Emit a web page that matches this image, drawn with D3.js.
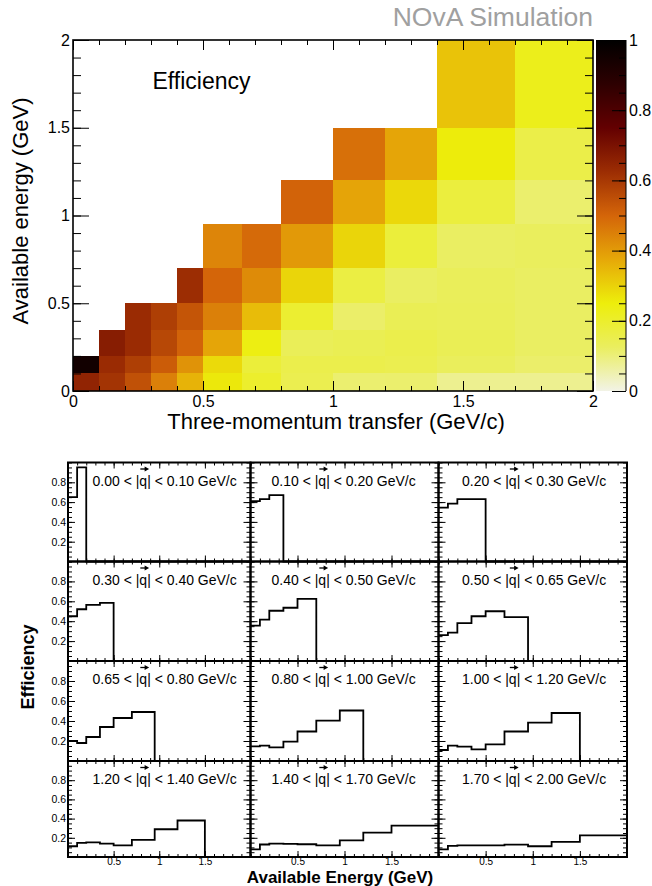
<!DOCTYPE html>
<html>
<head>
<meta charset="utf-8">
<script src="https://cdn.jsdelivr.net/npm/d3@7"></script>
<style>
  body { margin: 0; background: #fff; }
  svg { display: block; font-family: "Liberation Sans", Arial, sans-serif; }
</style>
</head>
<body>
<svg id="chart" width="652" height="886"></svg>
<script>
// bin edges (GeV/c for |q|, GeV for available energy)
const qEdges = [0, 0.1, 0.2, 0.3, 0.4, 0.5, 0.65, 0.8, 1.0, 1.2, 1.4, 1.7, 2.0];
const eavEdges = [0, 0.1, 0.2, 0.35, 0.5, 0.7, 0.95, 1.2, 1.5, 2.0];

// efficiency in each |q| slice, one value per available-energy bin
const efficiency = [
  [0.65, 0.95],
  [0.61, 0.63, 0.67],
  [0.545, 0.585, 0.63, 0.63],
  [0.45, 0.52, 0.565, 0.585],
  [0.355, 0.415, 0.505, 0.535, 0.625],
  [0.26, 0.285, 0.38, 0.45, 0.50, 0.44],
  [0.20, 0.18, 0.24, 0.34, 0.43, 0.49],
  [0.147, 0.153, 0.136, 0.194, 0.295, 0.403, 0.505],
  [0.11, 0.153, 0.143, 0.116, 0.167, 0.295, 0.383, 0.48],
  [0.112, 0.147, 0.153, 0.14, 0.122, 0.178, 0.289, 0.38],
  [0.08, 0.13, 0.14, 0.136, 0.133, 0.122, 0.174, 0.254, 0.327],
  [0.08, 0.115, 0.122, 0.122, 0.122, 0.128, 0.112, 0.157, 0.226],
];

// tick values
const mapTicks = [0, 0.5, 1, 1.5, 2];
const zTicks = [0, 0.2, 0.4, 0.6, 0.8, 1];
const panelYTicks = [0.2, 0.4, 0.6, 0.8];
const panelXTicks = [0.5, 1, 1.5];

// inverted dark body radiator palette
const paletteColors = ['#f2f3e6', '#eaee5f', '#edee0b', '#e6a808', '#d46509', '#9c2d03', '#630001', '#2d0001', '#000000'];

const svg = d3.select('#chart');
const color = d3.scaleLinear()
  .domain(paletteColors.map((c, i) => i / (paletteColors.length - 1)))
  .range(paletteColors)
  .interpolate(d3.interpolateRgb);

const range = (a, b, s) => d3.range(Math.round((b - a) / s) + 1).map((i) => +(a + i * s).toFixed(4));

function ticks(g, axisFn, scale, values, size, fmt, pad, font) {
  g.call(axisFn(scale).tickValues(values).tickSize(size).tickPadding(pad || 3)
    .tickFormat(fmt || (() => '')));
  g.select('.domain').remove();
  g.attr('font-family', null).attr('font-size', font || 10);
  g.selectAll('line').attr('stroke', '#000');
  g.selectAll('text').attr('fill', '#000');
  return g;
}

// ---------- 2D efficiency map ----------
const mx = d3.scaleLinear().domain([0, 2]).range([73, 593]);
const my = d3.scaleLinear().domain([0, 2]).range([391, 40]);

const cells = [];
efficiency.forEach((col, j) => col.forEach((v, i) => cells.push({ j, i, v })));

svg.append('g')
  .selectAll('rect')
  .data(cells)
  .join('rect')
  .attr('x', (d) => mx(qEdges[d.j]))
  .attr('width', (d) => mx(qEdges[d.j + 1]) - mx(qEdges[d.j]))
  .attr('y', (d) => my(eavEdges[d.i + 1]))
  .attr('height', (d) => my(eavEdges[d.i]) - my(eavEdges[d.i + 1]))
  .attr('fill', (d) => color(d.v))
  .attr('shape-rendering', 'crispEdges');

const fmt = d3.format('~g');
ticks(svg.append('g').attr('transform', 'translate(0,391)'), d3.axisBottom, mx, range(0, 2, 0.1), -5);
ticks(svg.append('g').attr('transform', 'translate(0,391)'), d3.axisBottom, mx, mapTicks, -10, fmt, 5, 16);
ticks(svg.append('g').attr('transform', 'translate(0,40)'), d3.axisTop, mx, range(0, 2, 0.1), -5);
ticks(svg.append('g').attr('transform', 'translate(0,40)'), d3.axisTop, mx, mapTicks, -10);
ticks(svg.append('g').attr('transform', 'translate(73,0)'), d3.axisLeft, my, range(0, 2, 0.1), -8);
ticks(svg.append('g').attr('transform', 'translate(73,0)'), d3.axisLeft, my, mapTicks, -16, fmt, 3, 16);
ticks(svg.append('g').attr('transform', 'translate(593,0)'), d3.axisRight, my, range(0, 2, 0.1), -8);
ticks(svg.append('g').attr('transform', 'translate(593,0)'), d3.axisRight, my, mapTicks, -16);

svg.append('rect')
  .attr('x', 73).attr('y', 40).attr('width', 520).attr('height', 351)
  .attr('fill', 'none').attr('stroke', '#000').attr('stroke-width', 1.6);

// colour bar
const zy = d3.scaleLinear().domain([0, 1]).range([391, 40]);
const grad = svg.append('defs').append('linearGradient')
  .attr('id', 'zgrad').attr('x1', 0).attr('y1', 1).attr('x2', 0).attr('y2', 0);
grad.selectAll('stop')
  .data(paletteColors)
  .join('stop')
  .attr('offset', (d, i) => i / (paletteColors.length - 1))
  .attr('stop-color', (d) => d);
svg.append('rect')
  .attr('x', 596).attr('y', zy(1)).attr('width', 30).attr('height', zy(0) - zy(1))
  .attr('fill', 'url(#zgrad)');
ticks(svg.append('g').attr('transform', 'translate(626,0)'), d3.axisRight, zy, range(0, 1, 0.05), -7);
ticks(svg.append('g').attr('transform', 'translate(626,0)'), d3.axisRight, zy, zTicks, -14, fmt, 3, 16);
svg.append('line').attr('x1', 626).attr('x2', 626).attr('y1', 40).attr('y2', 391).attr('stroke', '#000');

// texts
svg.append('text').attr('x', 593).attr('y', 26).attr('text-anchor', 'end')
  .attr('font-size', 26.5).attr('fill', '#a0a0a0').text('NOvA Simulation');
svg.append('text').attr('x', 152.5).attr('y', 89).attr('font-size', 23).text('Efficiency');
svg.append('text').attr('transform', 'translate(28,211) rotate(-90)').attr('text-anchor', 'middle')
  .attr('font-size', 22).text('Available energy (GeV)');
svg.append('text').attr('x', 336).attr('y', 429).attr('text-anchor', 'middle')
  .attr('font-size', 22).text('Three-momentum transfer (GeV/c)');

// ---------- slices ----------
const colX = [68, 250.5, 438.5, 627];
const rowY = [462.5, 561.5, 661, 761, 857];
const labelX = [92.5, 271.5, 462];
const sliceLine = d3.line().curve(d3.curveStepAfter);

efficiency.forEach((vals, k) => {
  const r = Math.floor(k / 3);
  const c = k % 3;
  const px = d3.scaleLinear().domain([0, 2]).range([colX[c], colX[c + 1]]);
  const py = d3.scaleLinear().domain([0, 1]).range([rowY[r + 1], rowY[r]]);
  const g = svg.append('g');

  const pts = vals.map((v, i) => [eavEdges[i], v]);
  const last = eavEdges[vals.length];
  if (last < 2) pts.push([last, 0], [2, 0]);
  else pts.push([2, vals[vals.length - 1]]);
  g.append('path')
    .attr('d', sliceLine(pts.map((p) => [px(p[0]), py(p[1])])))
    .attr('fill', 'none').attr('stroke', '#000').attr('stroke-width', 1.8);

  const yMinor = range(0, 1, 0.05);
  const xMinor = range(0, 2, 0.1);
  ticks(g.append('g').attr('transform', `translate(${colX[c]},0)`), d3.axisLeft, py, yMinor, -4);
  ticks(g.append('g').attr('transform', `translate(${colX[c]},0)`), d3.axisLeft, py, panelYTicks, -7,
    c === 0 ? fmt : null, 2, 10.5);
  ticks(g.append('g').attr('transform', `translate(${colX[c + 1]},0)`), d3.axisRight, py, yMinor, -4);
  ticks(g.append('g').attr('transform', `translate(${colX[c + 1]},0)`), d3.axisRight, py, panelYTicks, -7);
  ticks(g.append('g').attr('transform', `translate(0,${rowY[r + 1]})`), d3.axisBottom, px, xMinor, -3);
  ticks(g.append('g').attr('transform', `translate(0,${rowY[r + 1]})`), d3.axisBottom, px, panelXTicks, -6,
    r === 3 ? fmt : null, 1, 10);
  ticks(g.append('g').attr('transform', `translate(0,${rowY[r]})`), d3.axisTop, px, xMinor, -3);
  ticks(g.append('g').attr('transform', `translate(0,${rowY[r]})`), d3.axisTop, px, panelXTicks, -6);

  g.append('rect')
    .attr('x', colX[c]).attr('y', rowY[r])
    .attr('width', colX[c + 1] - colX[c]).attr('height', rowY[r + 1] - rowY[r])
    .attr('fill', 'none').attr('stroke', '#000').attr('stroke-width', 2);

  // slice label with vector arrow over q
  const lo = qEdges[k].toFixed(2);
  const hi = qEdges[k + 1].toFixed(2);
  const label = `${lo} < |q| < ${hi} GeV/c`;
  const baseY = rowY[r] + 23;
  const t = g.append('text').attr('x', labelX[c]).attr('y', baseY)
    .attr('font-size', 14).text(label);
  const qi = label.indexOf('q');
  const node = t.node();
  const p0 = node.getStartPositionOfChar(qi);
  const w = node.getSubStringLength(qi, 1);
  const ay = baseY - 16.5;
  const ax0 = p0.x + 1;
  const ax1 = p0.x + w + 2;
  g.append('line').attr('x1', ax0).attr('x2', ax1 - 3).attr('y1', ay).attr('y2', ay)
    .attr('stroke', '#000').attr('stroke-width', 1.3);
  g.append('path')
    .attr('d', `M${ax1},${ay} L${ax1 - 4.5},${ay - 2.5} L${ax1 - 4.5},${ay + 2.5} Z`)
    .attr('fill', '#000');
});

svg.append('text').attr('transform', 'translate(34,667) rotate(-90)').attr('text-anchor', 'middle')
  .attr('font-size', 18).attr('font-weight', 'bold').text('Efficiency');
svg.append('text').attr('x', 340).attr('y', 883).attr('text-anchor', 'middle')
  .attr('font-size', 17).attr('font-weight', 'bold').text('Available Energy (GeV)');
</script>
</body>
</html>
